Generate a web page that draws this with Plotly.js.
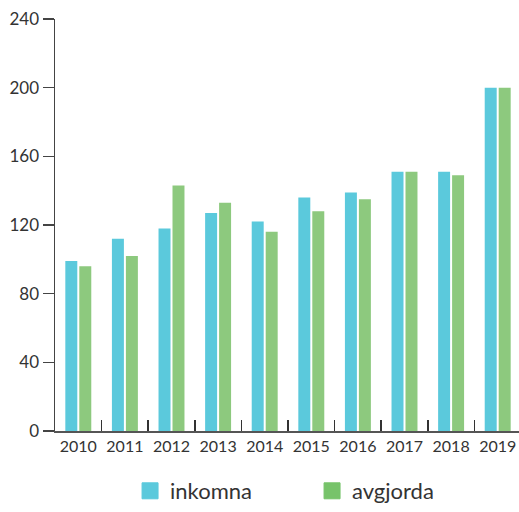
<!DOCTYPE html>
<html>
<head>
<meta charset="utf-8">
<script src="https://cdn.plot.ly/plotly-3.0.1.min.js"></script>
<style>html,body{margin:0;padding:0;background:#fff;}#chart{width:519px;height:512px;}</style>
</head>
<body>
<div id="chart"></div>
<script>
var years = ['2010','2011','2012','2013','2014','2015','2016','2017','2018','2019'];
var inkomna = [99, 112, 118, 127, 122, 136, 139, 151, 151, 200];
var avgjorda = [96, 102, 143, 133, 116, 128, 135, 151, 149, 200];
var seriesNames = ['inkomna', 'avgjorda'];
var colors = ['#5bc9dc', '#8dc97e'];
var legendColors = ['#5bc9dc', '#77c36a'];

var font = 'Lato, "Open Sans", sans-serif';
var traces = [
  {type: 'bar', x: years, y: inkomna, name: seriesNames[0], marker: {color: colors[0]}, showlegend: false, hoverinfo: 'x+y'},
  {type: 'bar', x: years, y: avgjorda, name: seriesNames[1], marker: {color: colors[1]}, showlegend: false, hoverinfo: 'x+y'},
  {type: 'scatter', mode: 'markers', x: [null], y: [null], name: seriesNames[0], marker: {symbol: 'square', size: 16, color: legendColors[0], line: {width: 1, color: legendColors[0]}}},
  {type: 'scatter', mode: 'markers', x: [null], y: [null], name: seriesNames[1], marker: {symbol: 'square', size: 16, color: legendColors[1], line: {width: 1, color: legendColors[1]}}}
];

var layout = {
  width: 519, height: 512,
  margin: {l: 55, r: 0, t: 19, b: 81, pad: 0, autoexpand: false},
  paper_bgcolor: '#fff', plot_bgcolor: '#fff',
  font: {family: font, size: 16, color: '#333'},
  barmode: 'group', bargap: 0.4, bargroupgap: 0.143,
  showlegend: true,
  legend: {orientation: 'h', x: 0.554, xanchor: 'center', y: -0.1966, yanchor: 'bottom',
           font: {family: font, size: 22, color: '#333'}, itemsizing: 'trace', entrywidth: 137, traceorder: 'normal'},
  xaxis: {type: 'category', range: [-0.5, 9.457], showgrid: false, zeroline: false,
          showline: true, linecolor: '#555', linewidth: 1.5, tickangle: 0, automargin: false,
          ticks: 'inside', tickson: 'boundaries', ticklen: 11, tickcolor: '#333', tickwidth: 1.5,
          tickfont: {family: font, size: 16, color: '#333'}, fixedrange: true},
  yaxis: {range: [0, 240], dtick: 40, tick0: 0, showgrid: false, zeroline: false, automargin: false,
          showline: true, linecolor: '#444', linewidth: 1.5,
          ticks: 'outside', ticklen: 11, tickcolor: '#444', tickwidth: 1.5,
          tickfont: {family: font, size: 17, color: '#333'}, fixedrange: true}
};

Plotly.newPlot('chart', traces, layout, {displayModeBar: false, staticPlot: true});
</script>
</body>
</html>
